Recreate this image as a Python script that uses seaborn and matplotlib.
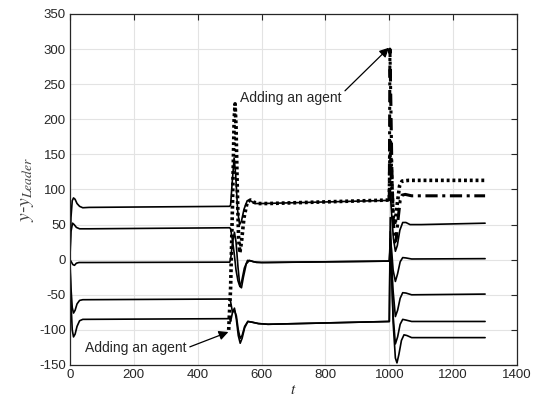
import matplotlib
matplotlib.use("Agg")
import matplotlib.pyplot as plt
import seaborn as sns
import pandas as pd

# ---- data ----
# agent 1 (solid)
a1_t = [0, 3, 7, 11, 16, 22, 30, 40, 60, 200, 500,
        503, 508, 514, 519, 525, 531, 537, 545, 555, 565, 580, 600, 1000,
        1003, 1008, 1013, 1019, 1025, 1033, 1042, 1052, 1065, 1100, 1300]
a1_y = [10, 60, 84, 88, 86, 80, 76, 74, 74.5, 75, 76,
        78, 110, 145, 120, 70, 50, 55, 72, 84, 84, 80, 80, 84.5,
        95, 60, 30, 12, 20, 42, 53, 53, 50, 50, 52]
# agent 2 (solid)
a2_t = [0, 3, 8, 13, 20, 30, 60, 500,
        503, 508, 514, 520, 526, 532, 538, 546, 556, 568, 585, 620, 1000,
        1003, 1007, 1012, 1019, 1026, 1034, 1042, 1052, 1070, 1300]
a2_y = [5, 40, 52, 50, 46, 44, 44, 45.5,
        44, 30, 10, -15, -30, -38, -30, -12, -1, -2, -4, -4, -2,
        30, 15, -15, -31, -20, -3, 3, 2.5, 1, 1.5]
# agent 3 (solid)
a3_t = [0, 4, 9, 14, 20, 28, 60, 500,
        503, 509, 515, 520, 526, 532, 537, 543, 552, 562, 575, 600, 1000,
        1003, 1007, 1012, 1019, 1026, 1034, 1042, 1052, 1070, 1300]
a3_y = [0, -3, -7, -8, -5, -4, -4, -3.5,
        0, 25, 39, 25, -10, -38, -40, -25, -6, -1, -3, -4, -2,
        20, -5, -45, -81, -72, -55, -47, -47.5, -50, -49]
# agent 4 (solid)
a4_t = [0, 3, 7, 11, 16, 22, 30, 40, 500,
        503, 509, 515, 521, 527, 533, 539, 547, 557, 570, 590, 620, 1000,
        1003, 1007, 1012, 1019, 1026, 1034, 1042, 1052, 1070, 1300]
a4_y = [-5, -40, -68, -76, -72, -63, -58, -57, -56,
        -60, -75, -72, -80, -100, -112, -108, -95, -88, -89, -91, -92, -88,
        40, -20, -80, -120, -110, -92, -85, -86, -88, -88]
# agent 5 (solid)
a5_t = [0, 3, 7, 11, 16, 22, 30, 40, 500,
        503, 509, 515, 521, 527, 533, 539, 547, 557, 570, 590, 620, 1000,
        1003, 1007, 1012, 1019, 1024, 1030, 1038, 1046, 1055, 1070, 1300]
a5_y = [-10, -60, -100, -110, -106, -95, -87, -85, -84,
        -88, -75, -69, -85, -108, -119, -112, -97, -88, -89, -91, -92, -88,
        60, -10, -90, -140, -147, -135, -115, -107, -108, -111, -111]
# agent added at t=500 (dotted)
a6_t = [497, 503, 509, 514, 517, 520, 524, 528, 532, 537, 545, 555, 565, 575, 590, 620, 1000,
        1003, 1007, 1012, 1018, 1025, 1032, 1040, 1060, 1300]
a6_y = [-100, -40, 80, 200, 222, 190, 100, 30, 10, 25, 60, 82, 85, 82, 80, 80, 85,
        170, 120, 60, 50, 80, 105, 112, 113, 113]
# agent added at t=1000 (dash-dot)
a7_t = [1000, 1002, 1005, 1008, 1012, 1017, 1022, 1028, 1034, 1040, 1050, 1070, 1300]
a7_y = [85, 300, 220, 130, 60, 25, 30, 60, 84, 92, 93, 91, 91]

x_ticks = [0, 200, 400, 600, 800, 1000, 1200, 1400]
y_ticks = [-150, -100, -50, 0, 50, 100, 150, 200, 250, 300, 350]

# ---- plotting ----
sns.set_style("white")
plt.rcParams["font.family"] = ["Liberation Sans", "DejaVu Sans"]
plt.rcParams["mathtext.fontset"] = "stix"
plt.rcParams["axes.unicode_minus"] = False

fig = plt.figure(figsize=(5.36, 4.03), dpi=100)
ax = fig.add_axes([0.1306, 0.0943, 0.834, 0.871])

solid = [(a1_t, a1_y), (a2_t, a2_y), (a3_t, a3_y), (a4_t, a4_y), (a5_t, a5_y)]
for t, y in solid:
    sns.lineplot(x=t, y=y, ax=ax, color="black", lw=1.2, sort=False, estimator=None)
sns.lineplot(x=a6_t, y=a6_y, ax=ax, color="black", lw=2.6, sort=False, estimator=None,
             linestyle=(0, (0.8, 0.8)))
sns.lineplot(x=a7_t, y=a7_y, ax=ax, color="black", lw=2.2, sort=False, estimator=None,
             linestyle=(0, (4, 1.5, 1, 1.5)))

ax.set_xlim(0, 1400)
ax.set_ylim(-150, 350)
ax.set_xticks(x_ticks)
ax.set_yticks(y_ticks)
ax.grid(True, color="#e3e3e3", lw=0.8)
ax.set_axisbelow(True)
for s in ax.spines.values():
    s.set_visible(True)
    s.set_color("#262626")
    s.set_linewidth(0.9)
ax.tick_params(direction="in", length=4, width=0.8, top=True, right=True,
               labelsize=9.5, colors="#262626", pad=3)

ax.set_xlabel(r"$t$", fontsize=11, labelpad=1, color="#262626")
ax.set_ylabel(r"$y$-$y_{Leader}$", fontsize=14, labelpad=2, color="#444444")

ax.annotate("Adding an agent", xy=(999, 302), xytext=(533, 230),
            fontsize=10, va="center", ha="left",
            arrowprops=dict(arrowstyle="-|>", color="black", lw=0.9,
                            mutation_scale=14, shrinkA=0, shrinkB=0,
                            relpos=(1.0, 0.8)))
ax.annotate("Adding an agent", xy=(496, -103), xytext=(47, -126),
            fontsize=10, va="center", ha="left",
            arrowprops=dict(arrowstyle="-|>", color="black", lw=0.9,
                            mutation_scale=14, shrinkA=0, shrinkB=0,
                            relpos=(1.0, 0.5)))

fig.savefig("out.png", dpi=100)
